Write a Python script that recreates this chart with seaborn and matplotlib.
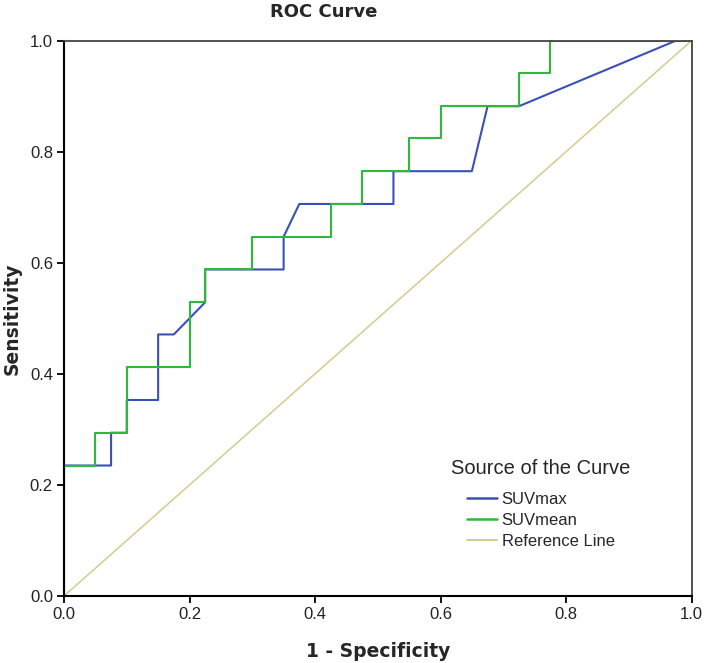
import matplotlib
matplotlib.use("Agg")
import matplotlib.pyplot as plt
import seaborn as sns
import pandas as pd
from matplotlib.lines import Line2D

# ---- data ----
suvmax_fpr = [0, 0, 0.075, 0.075, 0.1, 0.1, 0.15, 0.15, 0.175, 0.225, 0.225, 0.35, 0.35,
              0.375, 0.525, 0.525, 0.65, 0.675, 0.725, 0.975, 1.0]
suvmax_tpr = [0, 0.235, 0.235, 0.294, 0.294, 0.353, 0.353, 0.471, 0.471, 0.529, 0.588, 0.588,
              0.647, 0.706, 0.706, 0.765, 0.765, 0.882, 0.882, 1.0, 1.0]
suvmean_fpr = [0, 0, 0.05, 0.05, 0.1, 0.1, 0.2, 0.2, 0.225, 0.225, 0.3, 0.3, 0.425, 0.425,
               0.475, 0.475, 0.55, 0.55, 0.6, 0.6, 0.725, 0.725, 0.775, 0.775, 1.0]
suvmean_tpr = [0, 0.235, 0.235, 0.294, 0.294, 0.412, 0.412, 0.529, 0.529, 0.588, 0.588, 0.647,
               0.647, 0.706, 0.706, 0.765, 0.765, 0.824, 0.824, 0.882, 0.882, 0.941, 0.941, 1.0, 1.0]
ref_fpr = [0, 1]
ref_tpr = [0, 1]
series_names = ["SUVmax", "SUVmean", "Reference Line"]
tick_values = [0.0, 0.2, 0.4, 0.6, 0.8, 1.0]
tick_labels = ["0.0", "0.2", "0.4", "0.6", "0.8", "1.0"]

rows = []
for name, xs, ys in zip(series_names,
                        [suvmax_fpr, suvmean_fpr, ref_fpr],
                        [suvmax_tpr, suvmean_tpr, ref_tpr]):
    for i, (x, y) in enumerate(zip(xs, ys)):
        rows.append({"fpr": x, "tpr": y, "Source of the Curve": name, "order": i})
df = pd.DataFrame(rows)

sns.set_theme(style="white")
plt.rcParams["font.family"] = ["Liberation Sans", "DejaVu Sans"]

palette = {"SUVmax": "#3a50b8", "SUVmean": "#2fb83a", "Reference Line": "#d3cc8e"}
widths = {"SUVmax": 1.5, "SUVmean": 1.5, "Reference Line": 1.1}

fig = plt.figure(figsize=(7.04, 6.63), dpi=100)
ax = fig.add_axes([64 / 704, 67 / 663, (691.5 - 64) / 704, (596 - 40.7) / 663])

for name in ["Reference Line", "SUVmax", "SUVmean"]:
    sub = df[df["Source of the Curve"] == name]
    sns.lineplot(data=sub, x="fpr", y="tpr", sort=False, estimator=None,
                 color=palette[name], linewidth=widths[name], ax=ax, label=name,
                 legend=False)

ax.set_xlim(0, 1)
ax.set_ylim(0, 1)
ax.set_xticks(tick_values)
ax.set_xticklabels(tick_labels)
ax.set_yticks(tick_values)
ax.set_yticklabels(tick_labels)
ax.tick_params(axis="both", which="major", direction="out", length=5, width=1.3,
               color="black", labelsize=12, labelcolor="#222222", bottom=True, left=True, pad=3)

for s in ["left", "bottom"]:
    ax.spines[s].set_color("black")
    ax.spines[s].set_linewidth(1.5)
for s in ["top", "right"]:
    ax.spines[s].set_color("#444444")
    ax.spines[s].set_linewidth(1.3)

ax.set_xlabel("1 - Specificity", fontsize=13.5, fontweight="bold", family="DejaVu Sans",
              labelpad=14)
ax.set_ylabel("Sensitivity", fontsize=13.5, fontweight="bold", family="DejaVu Sans")
ax.yaxis.label.set_va("center")
ax.yaxis.label.set_ha("center")
ax.yaxis.set_label_coords((12 - 64) / 627.5, 0.5)

fig.text(323.5 / 704, 1 - 12 / 663, "ROC Curve", ha="center", va="center",
         fontsize=13, fontweight="bold", family="DejaVu Sans")

handles = [Line2D([0], [0], color=palette[n], linewidth=widths[n] + 0.3) for n in series_names]
leg = ax.legend(handles, series_names, title="Source of the Curve", frameon=False,
                loc="center", bbox_to_anchor=(541 / 704, 1 - 504 / 663),
                bbox_transform=fig.transFigure, fontsize=12, title_fontsize=14.5,
                handlelength=1.75, handletextpad=0.3, labelspacing=0.35, borderpad=0.2)
leg._legend_box.sep = 10

fig.savefig("out.png", dpi=100)
